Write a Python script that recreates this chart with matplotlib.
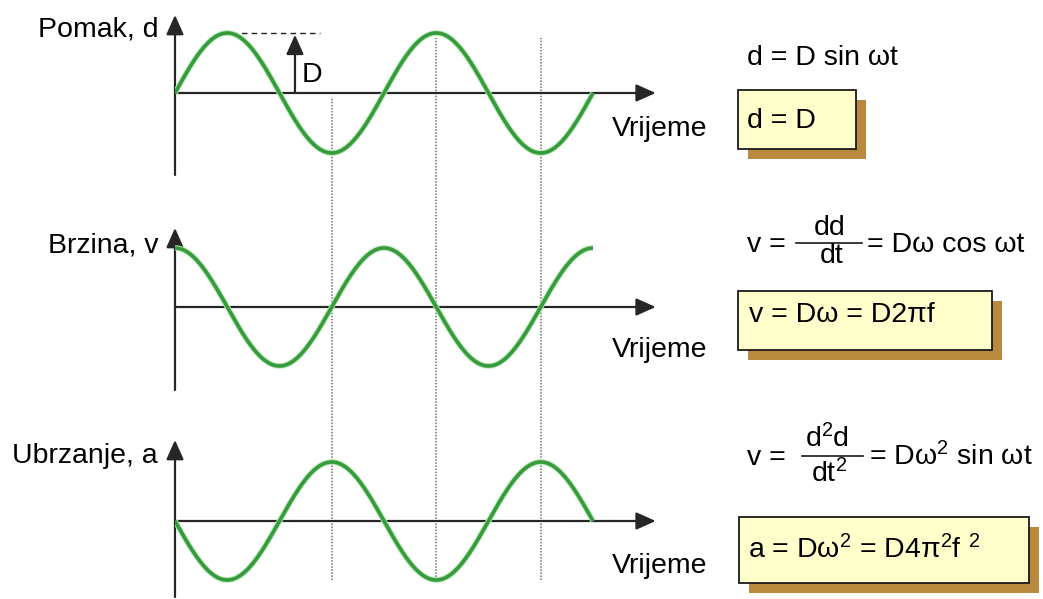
import numpy as np
import matplotlib
matplotlib.use('Agg')
import matplotlib.pyplot as plt
from matplotlib.patches import Rectangle
from matplotlib.transforms import blended_transform_factory
import matplotlib.patheffects as pe

plt.rcParams['font.family'] = ['Liberation Sans', 'DejaVu Sans']
plt.rcParams['mathtext.fontset'] = 'custom'
plt.rcParams['mathtext.rm'] = 'Liberation Sans'
plt.rcParams['mathtext.it'] = 'Liberation Sans'

# what the diagram shows: d = D sin wt and its derivatives over two periods
D = 1.0
periods = 2.0
t = np.linspace(0, periods, 600)
wt = 2 * np.pi * t
displacement = D * np.sin(wt)
velocity = D * np.cos(wt)
acceleration = -D * np.sin(wt)

marker_times = [0.75, 1.25, 1.75]   # dotted guide lines (in periods)

panel_labels = ['Pomak, d', 'Brzina, v', 'Ubrzanje, a']
time_label = 'Vrijeme'

W, H = 1043, 599
fig = plt.figure(figsize=(W / 100, H / 100), dpi=100)
fig.patch.set_facecolor('white')

FS = 20.5
GREEN = '#379a3c'
AXC = '#262626'
x0_px, px_per_period, x_end = 175, 209, 2.3

# (zero line, amplitude, top of y arrow, bottom of y axis) in pixels
panels = [(93, 60, 15, 175), (307, 59, 228, 390), (521, 59, 440, 597)]
series = [displacement, velocity, acceleration]

arrow_kw = dict(arrowstyle='-|>,head_length=0.85,head_width=0.38',
                color=AXC, lw=1.6, mutation_scale=14, shrinkA=0, shrinkB=0)

axes = []
for (zero, amp, top, bot), y in zip(panels, series):
    ax = fig.add_axes([x0_px / W, 1 - bot / H,
                       x_end * px_per_period / W, (bot - top) / H])
    ax.set_xlim(0, x_end)
    ax.set_ylim(-(bot - zero) / amp, (zero - top) / amp)
    ax.set_facecolor('none')
    ax.axis('off')
    yl = ax.get_ylim()
    # axes with arrow heads
    ax.annotate('', xy=(0, yl[1]), xytext=(0, yl[0]), arrowprops=arrow_kw,
                annotation_clip=False)
    ax.annotate('', xy=(x_end, 0), xytext=(0, 0), arrowprops=arrow_kw,
                annotation_clip=False)
    ax.plot(t, y, color=GREEN, lw=2.6, solid_capstyle='butt', zorder=3,
            path_effects=[pe.Stroke(linewidth=4.0, foreground='#b0e8b0'), pe.Normal()])
    axes.append(ax)

ax1 = axes[0]
# dotted guides through all three panels
trans = blended_transform_factory(ax1.transData, fig.transFigure)
for i, tm in enumerate(marker_times):
    top_px = 97 if i == 0 else 38
    ax1.plot([tm, tm], [1 - 580 / H, 1 - top_px / H], transform=trans,
             color='#707070', lw=1.1, linestyle=(0, (1, 1)), clip_on=False, zorder=1)

# amplitude marker D
ax1.plot([0.225, 0.694], [D, D], color='#222222', lw=1, dashes=(4, 3))
ax1.annotate('', xy=(0.574, 0.97 * D), xytext=(0.574, 0), arrowprops=arrow_kw,
             annotation_clip=False)
ax1.text(0.605, (93 - 82) / 60, 'D', fontsize=FS, va='baseline', ha='left')

# overlay in pixel coordinates for labels and formulas
ov = fig.add_axes([0, 0, 1, 1])
ov.set_xlim(0, W)
ov.set_ylim(H, 0)
ov.set_facecolor('none')
ov.axis('off')

for lab, yb in zip(panel_labels, [36, 253, 463]):
    ov.text(158, yb, lab, fontsize=FS, ha='right', va='baseline')
for yb in [136, 357, 573]:
    ov.text(612, yb, time_label, fontsize=FS, ha='left', va='baseline')

def box(x0, y0, x1, y1):
    ov.add_patch(Rectangle((x0 + 10, y0 + 10), x1 - x0, y1 - y0,
                           facecolor='#b98a3e', edgecolor='none', zorder=2))
    ov.add_patch(Rectangle((x0, y0), x1 - x0, y1 - y0,
                           facecolor='#ffffcc', edgecolor='#1a1a1a', lw=1.3, zorder=3))

box(738, 90, 856, 149)
box(738, 291, 992, 350)
box(739, 517, 1029, 583)

SQ = r'$^{2}$'

ov.text(747, 65, 'd = D sin ωt', fontsize=FS, va='baseline')
ov.text(747, 128, 'd = D', fontsize=FS, va='baseline', zorder=4)

ov.text(747, 252, 'v =', fontsize=FS, va='baseline')
ov.text(830, 235, 'dd', fontsize=FS, va='baseline', ha='center')
ov.plot([796, 862], [243, 243], color='#1a1a1a', lw=1.2)
ov.text(832, 263, 'dt', fontsize=FS, va='baseline', ha='center')
ov.text(867, 252, '= Dω cos ωt', fontsize=FS, va='baseline')
ov.text(749, 322, 'v = Dω = D2πf', fontsize=FS, va='baseline', zorder=4)

ov.text(747, 465, 'v =', fontsize=FS, va='baseline')
ov.text(827, 447, 'd' + SQ + 'd', fontsize=FS, va='baseline', ha='center')
ov.plot([802, 863], [456, 456], color='#1a1a1a', lw=1.2)
ov.text(829, 482, 'dt' + SQ, fontsize=FS, va='baseline', ha='center')
ov.text(869, 465, '= Dω' + SQ + ' sin ωt', fontsize=FS, va='baseline')
ov.text(748, 558, 'a = Dω' + SQ + ' = D4π' + SQ + 'f ' + SQ, fontsize=FS,
        va='baseline', zorder=4)

fig.savefig('out.png', dpi=100, facecolor='white')
